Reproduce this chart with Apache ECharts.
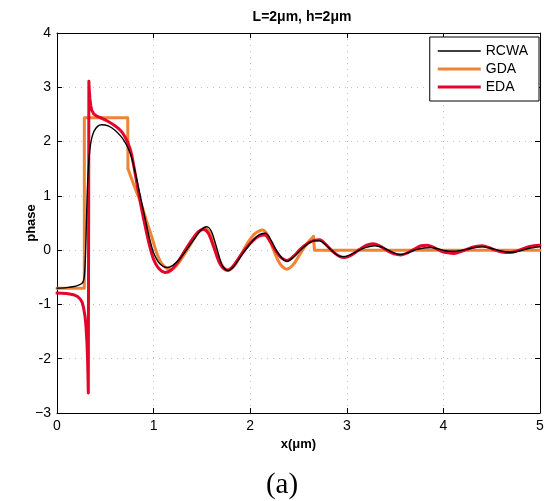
<!DOCTYPE html>
<html>
<head>
<meta charset="utf-8">
<script src="https://cdn.jsdelivr.net/npm/echarts@6/dist/echarts.min.js"></script>
<style>
html,body{margin:0;padding:0;background:#fff}
#chart{width:548px;height:501px}
</style>
</head>
<body>
<div id="chart"></div>
<script>
// Tick values and their printed labels
const xTicks = [0, 1, 2, 3, 4, 5];
const yTicks = [-3, -2, -1, 0, 1, 2, 3, 4];
const yTickText = ['\u22123', '-2', '-1', '0', '1', '2', '3', '4'];

// RCWA reference phase, [x (um), phase]
const rcwa = [[0,-0.70],[0.10,-0.69],[0.18,-0.67],[0.23,-0.64],[0.26,-0.61],[0.275,-0.56],[0.285,-0.44],[0.295,-0.10],
  [0.305,0.55],[0.315,1.15],[0.33,1.65],[0.35,1.98],[0.38,2.18],[0.42,2.28],[0.46,2.31],[0.53,2.29],[0.60,2.21],
  [0.66,2.10],[0.70,2.00],[0.73,1.90],[0.77,1.72],[0.81,1.43],[0.85,1.10],[0.88,0.85],[0.92,0.52],[0.96,0.20],
  [1.00,-0.05],[1.05,-0.22],[1.10,-0.30],[1.14,-0.32],[1.20,-0.28],[1.27,-0.16],[1.34,0.00],[1.42,0.20],[1.49,0.37],
  [1.55,0.43],[1.60,0.34],[1.66,0.00],[1.71,-0.28],[1.77,-0.38],[1.83,-0.30],[1.89,-0.15],[1.95,0.00],[2.04,0.20],
  [2.10,0.29],[2.16,0.31],[2.22,0.17],[2.27,0.00],[2.33,-0.15],[2.38,-0.21],[2.45,-0.13],[2.52,0.00],[2.60,0.12],
  [2.66,0.17],[2.72,0.17],[2.78,0.10],[2.84,0.00],[2.90,-0.09],[2.96,-0.12],[3.03,-0.09],[3.12,-0.01],[3.20,0.05],
  [3.29,0.08],[3.37,0.05],[3.45,-0.02],[3.55,-0.08],[3.63,-0.05],[3.72,0.01],[3.80,0.04],[3.87,0.05],[3.95,0.02],
  [4.02,-0.01],[4.11,-0.02],[4.20,0.00],[4.30,0.04],[4.40,0.06],[4.48,0.04],[4.56,0.00],[4.64,-0.03],[4.72,-0.04],
  [4.80,-0.01],[4.88,0.03],[4.95,0.05],[5.00,0.06]];

// GDA: step part, oscillating part, flat tail
const gdaStep = [[0,-0.70],[0.283,-0.70],[0.283,2.44],[0.732,2.44],[0.735,1.50]];
const gdaWave = [[0.735,1.50],[0.80,1.18],[0.87,0.86],[0.93,0.52],[0.98,0.25],[1.03,-0.04],[1.08,-0.24],[1.14,-0.34],
  [1.18,-0.36],[1.24,-0.28],[1.31,-0.10],[1.38,0.10],[1.45,0.30],[1.53,0.40],[1.58,0.32],[1.63,0.08],[1.68,-0.18],
  [1.73,-0.33],[1.78,-0.37],[1.84,-0.28],[1.90,-0.10],[1.97,0.12],[2.04,0.29],[2.10,0.36],[2.13,0.37],[2.17,0.30],
  [2.22,0.10],[2.27,-0.12],[2.32,-0.28],[2.38,-0.35],[2.44,-0.28],[2.50,-0.12],[2.56,0.05],[2.61,0.17],[2.655,0.25]];
const gdaTail = [[2.655,0.25],[2.665,0.00],[5,0]];

// EDA: resonance spike near the slit edge, then the oscillating part
const edaSpike = [[0,-0.79],[0.10,-0.80],[0.17,-0.82],[0.21,-0.85],[0.24,-0.90],[0.26,-0.96],[0.275,-1.06],[0.29,-1.22],
  [0.30,-1.40],[0.31,-1.70],[0.316,-2.00],[0.321,-2.35],[0.324,-2.63],[0.330,3.11],[0.334,2.95],[0.34,2.80],
  [0.35,2.66],[0.36,2.58],[0.38,2.51],[0.41,2.47],[0.45,2.44]];
const edaWave = [[0.45,2.44],[0.53,2.37],[0.60,2.29],[0.66,2.20],[0.70,2.10],[0.74,1.95],[0.77,1.78],[0.81,1.40],
  [0.85,1.00],[0.88,0.72],[0.92,0.38],[0.96,0.07],[1.00,-0.17],[1.05,-0.33],[1.12,-0.41],[1.18,-0.37],[1.25,-0.22],
  [1.32,-0.02],[1.40,0.20],[1.47,0.35],[1.52,0.38],[1.57,0.30],[1.63,0.02],[1.69,-0.26],[1.76,-0.37],[1.82,-0.30],
  [1.88,-0.15],[1.95,0.02],[2.03,0.18],[2.09,0.26],[2.15,0.28],[2.21,0.15],[2.26,0.00],[2.32,-0.14],[2.38,-0.19],
  [2.45,-0.11],[2.52,0.02],[2.60,0.13],[2.66,0.18],[2.72,0.19],[2.78,0.11],[2.85,-0.02],[2.92,-0.11],[2.98,-0.135],
  [3.05,-0.09],[3.13,0.01],[3.20,0.09],[3.27,0.12],[3.34,0.08],[3.42,-0.01],[3.49,-0.07],[3.56,-0.09],[3.63,-0.05],
  [3.71,0.03],[3.77,0.08],[3.83,0.09],[3.90,0.05],[3.98,-0.02],[4.05,-0.05],[4.11,-0.06],[4.19,-0.02],[4.28,0.04],
  [4.35,0.07],[4.40,0.08],[4.47,0.05],[4.55,-0.01],[4.62,-0.04],[4.69,-0.045],[4.77,-0.01],[4.86,0.05],[4.94,0.08],
  [5.00,0.09]];

const FONT = 'Liberation Sans';
const C_RCWA = '#000000', C_GDA = '#EF8434', C_EDA = '#E2062C';

// Legend swatches: a plain horizontal bar inside a 43x14 box (corner specks fix the box size)
function barIcon(thick) {
  const a = (7 - thick / 2).toFixed(2), b = (7 + thick / 2).toFixed(2);
  return 'path://M0,0L0.01,0L0,0.01Z M0,' + a + 'L43,' + a + 'L43,' + b + 'L0,' + b + 'Z M43,14L42.99,14L43,13.99Z';
}

function lineSeries(name, data, color, width, smooth, z) {
  return {
    name: name, type: 'line', data: data, smooth: smooth,
    symbol: 'none', showSymbol: false, z: z, silent: true,
    lineStyle: { color: color, width: width, cap: 'round', join: 'round' },
    itemStyle: { color: color }
  };
}

const frameAxis = { lineStyle: { color: '#000', width: 1 } };
const tick = { inside: true, length: 5, lineStyle: { color: '#000', width: 1 } };
const dots = { show: true, lineStyle: { color: '#c4c4c4', width: 1, type: [1, 5] } };

const chart = echarts.init(document.getElementById('chart'), null, { renderer: 'canvas' });
chart.setOption({
  animation: false,
  backgroundColor: '#fff',
  textStyle: { fontFamily: FONT },
  title: {
    text: 'L=2\u03bcm, h=2\u03bcm', left: 297, top: 5, textAlign: 'center',
    textStyle: { fontFamily: FONT, fontSize: 14, fontWeight: 'bold', color: '#000' }
  },
  legend: {
    data: [
      { name: 'RCWA', icon: barIcon(1.4) },
      { name: 'GDA', icon: barIcon(3) },
      { name: 'EDA', icon: barIcon(3) }
    ],
    orient: 'vertical', right: 9, top: 37,
    padding: [7, 11, 7, 8], itemGap: 4, itemWidth: 43, itemHeight: 14,
    borderColor: '#000', borderWidth: 1, backgroundColor: '#fff', borderRadius: 0,
    selectedMode: false,
    itemStyle: { borderWidth: 0 },
    textStyle: { fontFamily: FONT, fontSize: 14, color: '#000' }
  },
  grid: { left: 57, right: 8, top: 33, bottom: 88, containLabel: false },
  xAxis: [{
    type: 'value', min: xTicks[0], max: xTicks[xTicks.length - 1], interval: 1, position: 'bottom',
    axisLine: Object.assign({ onZero: false }, frameAxis), axisTick: tick, splitLine: dots,
    axisLabel: { color: '#000', fontSize: 14, margin: 6, fontFamily: FONT },
    name: 'x(\u03bcm)', nameLocation: 'middle', nameGap: 25, nameMoveOverlap: false,
    nameTextStyle: { fontFamily: FONT, fontSize: 13, fontWeight: 'bold', color: '#000' }
  }, {
    type: 'value', min: xTicks[0], max: xTicks[xTicks.length - 1], interval: 1, position: 'top',
    axisLine: Object.assign({ onZero: false }, frameAxis), axisTick: tick,
    axisLabel: { show: false }, splitLine: { show: false }
  }],
  yAxis: [{
    type: 'value', min: yTicks[0], max: yTicks[yTicks.length - 1], interval: 1, position: 'left',
    axisLine: Object.assign({ onZero: false, show: true }, frameAxis), axisTick: Object.assign({ show: true }, tick),
    splitLine: dots,
    axisLabel: {
      color: '#000', fontSize: 14, margin: 6, fontFamily: FONT,
      formatter: function (v) { const i = yTicks.indexOf(Math.round(v)); return i >= 0 ? yTickText[i] : ''; }
    },
    name: 'phase', nameLocation: 'middle', nameGap: 19, nameRotate: 90, nameMoveOverlap: false,
    nameTextStyle: { fontFamily: FONT, fontSize: 13, fontWeight: 'bold', color: '#000' }
  }, {
    type: 'value', min: yTicks[0], max: yTicks[yTicks.length - 1], interval: 1, position: 'right',
    axisLine: Object.assign({ onZero: false, show: true }, frameAxis), axisTick: Object.assign({ show: true }, tick),
    axisLabel: { show: false }, splitLine: { show: false }
  }],
  series: [
    lineSeries('GDA', gdaStep, C_GDA, 3, false, 2),
    lineSeries('GDA', gdaWave, C_GDA, 3, 0.3, 2),
    lineSeries('GDA', gdaTail, C_GDA, 3, false, 2),
    lineSeries('EDA', edaSpike, C_EDA, 3, false, 3),
    lineSeries('EDA', edaWave, C_EDA, 3, 0.3, 3),
    lineSeries('RCWA', rcwa, C_RCWA, 1.4, 0.3, 4)
  ],
  graphic: [{
    type: 'text', x: 282, y: 485,
    style: { text: '(a)', font: '29px "Liberation Serif"', fill: '#000', textAlign: 'center', textVerticalAlign: 'middle' }
  }]
});
</script>
</body>
</html>
